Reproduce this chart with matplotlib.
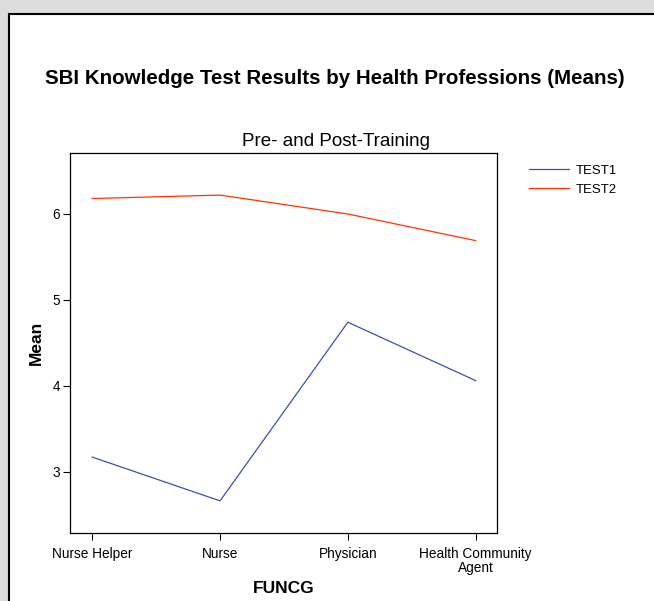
import matplotlib.pyplot as plt
from matplotlib.patches import Rectangle

plt.rcParams['font.family'] = ['Liberation Sans', 'DejaVu Sans']

groups = ["Nurse Helper", "Nurse", "Physician", "Health Community\nAgent"]
test1 = [3.17, 2.66, 4.74, 4.06]
test2 = [6.18, 6.22, 6.00, 5.69]

W, H = 654, 601
fig = plt.figure(figsize=(W / 100, H / 100), dpi=100)
fig.patch.set_facecolor("#dcdcdc")

# white panel with black frame
fig.add_artist(Rectangle((9 / W, -0.05), 1.0, 1 - 14 / H + 0.05,
                         transform=fig.transFigure, facecolor="white",
                         edgecolor="black", linewidth=1.5, zorder=0))

ax = fig.add_axes([70 / W, (H - 533) / H, 427 / W, 380 / H])
x = list(range(len(groups)))
ax.plot(x, test1, color="#3b4fb8", linewidth=0.9, label="TEST1")
ax.plot(x, test2, color="#ff3300", linewidth=0.9, label="TEST2")

ax.set_xlim(-0.174, 3.167)
ax.set_ylim(2.286, 6.71)
ax.set_xticks(x)
ax.set_xticklabels(groups, fontsize=9.8, linespacing=1.05)
ax.set_yticks([3, 4, 5, 6])
ax.tick_params(axis="x", direction="out", length=5, width=0.8, labelsize=9.8, pad=5)
ax.tick_params(axis="y", direction="out", length=5, width=0.8, labelsize=9.8, pad=2)
for s in ax.spines.values():
    s.set_linewidth(0.9)

ax.set_ylabel("Mean", fontsize=12.5, fontweight="bold", labelpad=6)
ax.set_xlabel("FUNCG", fontsize=12.5, fontweight="bold", labelpad=4)

fig.text(335 / W, 1 - 78 / H, "SBI Knowledge Test Results by Health Professions (Means)",
         ha="center", va="center", fontsize=14.8, fontweight="bold")
fig.text(336 / W, 1 - 142 / H, "Pre- and Post-Training",
         ha="center", va="center", fontsize=13.5)

fig.legend(loc="upper left", bbox_to_anchor=(524 / W, 1 - 159 / H), frameon=False,
           fontsize=9.5, handlelength=3.0, handletextpad=0.5, labelspacing=0.55,
           borderaxespad=0)

fig.savefig("out.png", dpi=100, facecolor=fig.get_facecolor())
